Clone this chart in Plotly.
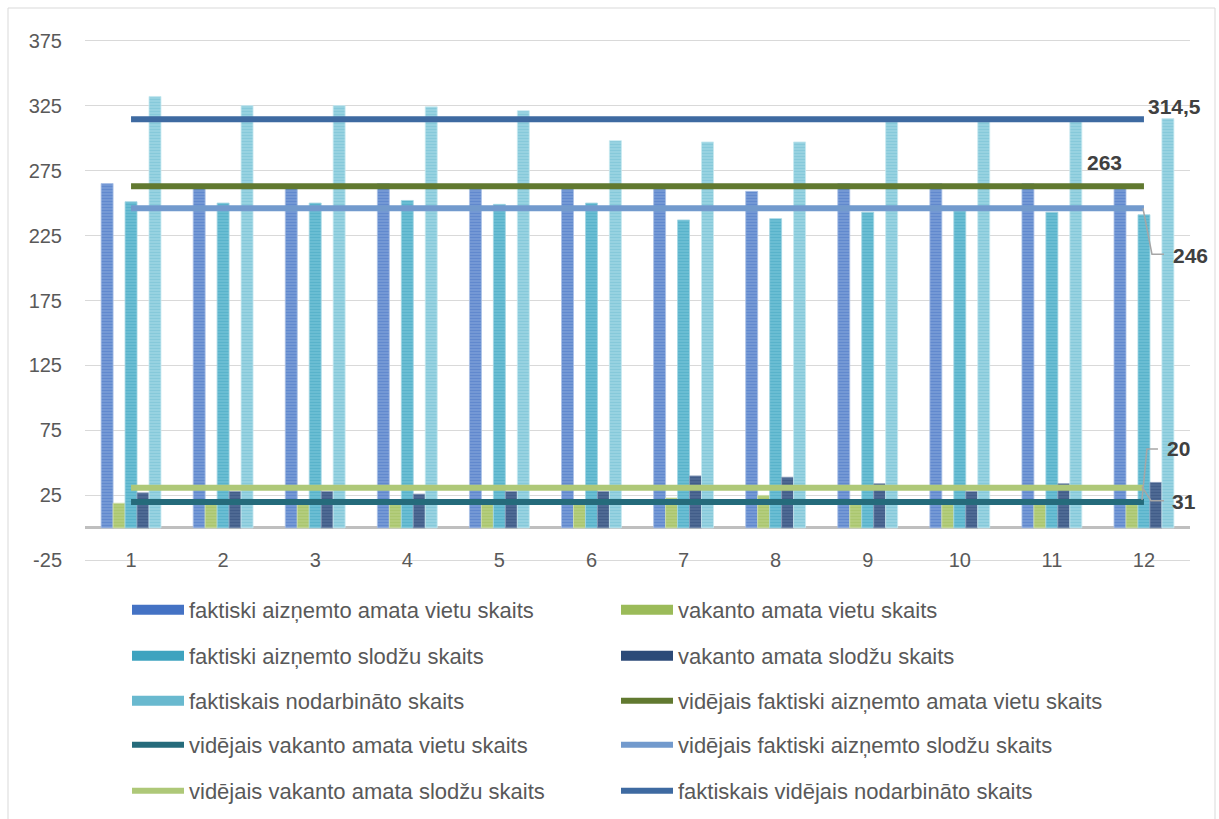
import plotly.graph_objects as go

# ---------------- data ----------------
months = [str(i) for i in range(1, 13)]
amata_vietas = [265, 262, 262, 265, 261, 261, 261, 259, 265, 265, 265, 261]
vakanto_vietas = [19, 19, 19, 19, 19, 19, 23, 25, 19, 19, 19, 19]
slodzes = [251, 250, 250, 252, 249, 250, 237, 238, 243, 244, 243, 241]
vakanto_slodzes = [27, 28, 28, 26, 28, 28, 40, 39, 34, 28, 34, 35]
nodarbinati = [332, 325, 325, 324, 321, 298, 297, 297, 314, 313, 313, 315]

avg_vietas = [263] * 12
avg_vakanto_vietas = [20] * 12
avg_slodzes = [246] * 12
avg_vakanto_slodzes = [31] * 12
avg_nodarbinati = [314.5] * 12

bar_names = [
    "faktiski aizņemto amata vietu skaits",
    "vakanto amata vietu skaits",
    "faktiski aizņemto slodžu skaits",
    "vakanto amata slodžu skaits",
    "faktiskais nodarbināto skaits",
]
line_names = [
    "vidējais faktiski aizņemto amata vietu skaits",
    "vidējais vakanto amata vietu skaits",
    "vidējais faktiski aizņemto slodžu skaits",
    "vidējais vakanto amata slodžu skaits",
    "faktiskais vidējais nodarbināto skaits",
]
y_ticks = [-25, 25, 75, 125, 175, 225, 275, 325, 375]

# ---------------- styles ----------------
FONT = "Liberation Sans, Arial, sans-serif"
bar_series = [amata_vietas, vakanto_vietas, slodzes, vakanto_slodzes, nodarbinati]
bar_bg = ["#7fa1d8", "#b9d184", "#74c3d7", "#56709a", "#a3d8e5"]
bar_fg = ["#4472c4", "#9bbb59", "#3ea3bf", "#2c4a78", "#69b9cf"]
bar_edge = ["#a9c0e6", "#cfe0ab", "#a2d6e3", "#8699b8", "#c6e8f0"]

line_series = [avg_vietas, avg_vakanto_vietas, avg_slodzes, avg_vakanto_slodzes, avg_nodarbinati]
line_colors = ["#617930", "#256b7b", "#729acd", "#aec878", "#3e6aa1"]

legend_ids = ["legend", "legend2", "legend3", "legend4", "legend5"]
all_names = bar_names + line_names
legend_of = {n: legend_ids[i // 2] for i, n in enumerate(all_names)}

fig = go.Figure()

for name, vals, bg, fg, ed in zip(bar_names, bar_series, bar_bg, bar_fg, bar_edge):
    fig.add_trace(go.Bar(
        x=months, y=vals, name=name, legendgroup=name, showlegend=False,
        marker=dict(color=bg, line=dict(color=ed, width=0.8),
                    pattern=dict(shape="-", fgcolor=fg, bgcolor=bg, size=3, solidity=0.6)),
        hoverinfo="x+y+name",
    ))
    # legend entry (wide swatch like the reference)
    fig.add_trace(go.Scatter(
        x=[None], y=[None], mode="lines", name=name, legendgroup=name,
        legend=legend_of[name], line=dict(color=fg, width=12), hoverinfo="skip",
    ))

for name, vals, col in zip(line_names, line_series, line_colors):
    fig.add_trace(go.Scatter(
        x=months, y=vals, name=name, mode="lines", legend=legend_of[name],
        line=dict(color=col, width=6),
    ))

# ---------------- layout ----------------
W, H = 1219, 819
row_py = [610, 656, 701, 745, 791]
legend_layout = {}
for lid, py in zip(legend_ids, row_py):
    legend_layout[lid] = dict(
        orientation="h", xref="container", x=127 / W, xanchor="left",
        yref="container", y=(H - py) / H, yanchor="middle",
        entrywidth=422, entrywidthmode="pixels", itemwidth=52,
        font=dict(family=FONT, size=22, color="#595959"),
        bgcolor="rgba(0,0,0,0)", traceorder="normal",
    )

T, B = 38, 256
fig.update_layout(
    width=W, height=H,
    margin=dict(l=85, r=29, t=T, b=B, autoexpand=False),
    paper_bgcolor="white", plot_bgcolor="white",
    barmode="group", bargap=0.35, bargroupgap=0,
    font=dict(family=FONT, size=20, color="#595959"),
    **legend_layout,
)

fig.update_yaxes(
    range=[-27, 377], tickvals=y_ticks, ticktext=[str(t) for t in y_ticks],
    showgrid=True, gridcolor="#d9d9d9", gridwidth=1.3,
    zeroline=True, zerolinecolor="#bfbfbf", zerolinewidth=3,
    showline=False, ticks="", ticklabelstandoff=22,
    tickfont=dict(family=FONT, size=20, color="#595959"),
)
fig.update_xaxes(
    type="category", range=[-0.5, 11.5], showgrid=False, showline=False,
    ticks="", ticklabelstandoff=-17,
    tickfont=dict(family=FONT, size=20, color="#595959"),
)

# data labels for average lines (at last category)
label_font = dict(family=FONT, size=21, color="#404040")
labels = [
    (avg_nodarbinati[-1], "314,5", 31, 13),
    (avg_vietas[-1], "263", -39, 24),
    (avg_slodzes[-1], "246", 47, -47),
    (avg_vakanto_vietas[-1], "20", 35, 53),
    (avg_vakanto_slodzes[-1], "31", 40, -14),
]
for val, txt, xs, ys in labels:
    fig.add_annotation(x=11, y=val, xref="x", yref="y", text="<b>%s</b>" % txt,
                       showarrow=False, xshift=xs, yshift=ys, font=label_font)

# leader lines (pixel offsets from the end of each line)
leaders = [
    (avg_slodzes[-1], "M -1,0 L 8,-46 L 20,-46"),
    (avg_vakanto_vietas[-1], "M -2,2 L 3,53 L 14,53"),
    (avg_vakanto_slodzes[-1], "M -2,1 L 7,-13 L 20,-13"),
]
for val, path in leaders:
    fig.add_shape(type="path", xref="x", yref="y", xsizemode="pixel", ysizemode="pixel",
                  xanchor=11, yanchor=val, path=path,
                  line=dict(color="#a6a6a6", width=1.5))

# chart border
ph = H - T - B
fig.add_shape(type="rect", xref="paper", yref="paper",
              x0=(8 - 85) / 1105, x1=(1215 - 85) / 1105,
              y0=((H - B) - 830) / ph, y1=((H - B) - 8) / ph,
              line=dict(color="#d9d9d9", width=1), fillcolor="rgba(0,0,0,0)", layer="below")

fig.write_html("out.html", config={"displayModeBar": False},
               post_script="document.body.style.margin='0';")
